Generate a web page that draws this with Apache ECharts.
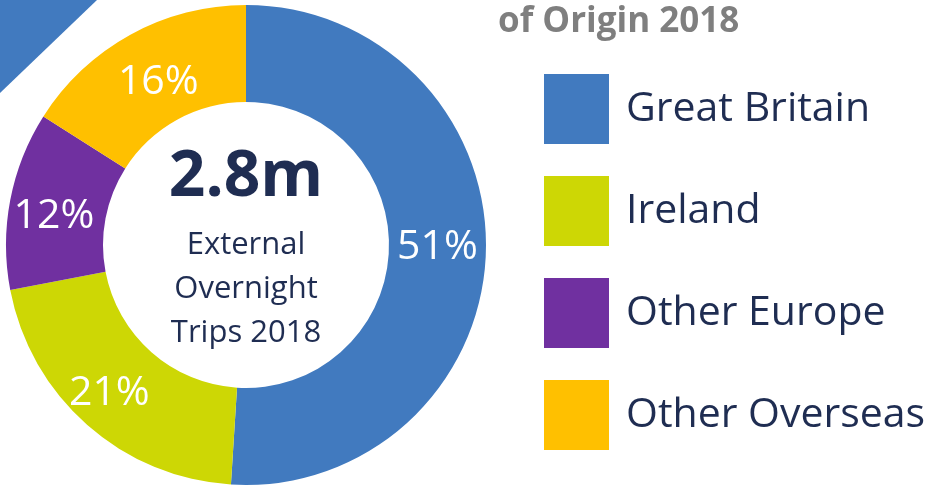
<!DOCTYPE html>
<html>
<head>
<meta charset="utf-8">
<script src="https://cdn.jsdelivr.net/npm/echarts@6/dist/echarts.min.js"></script>
<style>
  html, body { margin: 0; padding: 0; background: #fff; }
  #chart { width: 931px; height: 486px; }
</style>
</head>
<body>
<div id="chart"></div>
<script>
// market share of external overnight trips
const markets = ['Great Britain', 'Ireland', 'Other Europe', 'Other Overseas'];
const shares = [51, 21, 12, 16];
const colors = ['#417ABF', '#CDD705', '#7030A0', '#FFC000'];

const centreValue = '2.8m';
const centreLines = ['External', 'Overnight', 'Trips 2018'];

// nudge the % labels a little, like the original
const labelNudge = [[-3, -4], [-8, 2], [-1, 8], [6, 8]];

const NAVY = '#1F2D52';
const FONT = '"Open Sans", "Noto Sans", sans-serif';
const CX = 246, CY = 245;

const chart = echarts.init(document.getElementById('chart'));

const pieData = markets.map((name, i) => ({
  name: name,
  value: shares[i],
  itemStyle: { color: colors[i] },
  label: { offset: labelNudge[i] }
}));

const centreTexts = [{
  type: 'text',
  style: {
    x: CX, y: 178, text: centreValue, fill: NAVY,
    font: 'bold 64px ' + FONT, align: 'center', verticalAlign: 'middle'
  }
}].concat(centreLines.map((t, i) => ({
  type: 'text',
  style: {
    x: CX, y: 245 + i * 44, text: t, fill: NAVY,
    font: '31px ' + FONT, align: 'center', verticalAlign: 'middle'
  }
})));

chart.setOption({
  animation: false,
  title: {
    text: 'of Origin 2018',
    left: 493,
    top: 0,
    textStyle: { color: '#7F7F7F', fontFamily: FONT, fontWeight: 'bold', fontSize: 35 }
  },
  legend: {
    orient: 'vertical',
    left: 539,
    top: 69,
    icon: 'rect',
    itemWidth: 65,
    itemHeight: 70,
    itemGap: 32,
    data: markets,
    textStyle: {
      color: NAVY,
      fontFamily: FONT,
      fontSize: 41,
      padding: [0, 0, 0, 12]
    }
  },
  graphic: [
    {
      // corner decoration
      type: 'polygon',
      shape: { points: [[0, 0], [97, 0], [0, 93]] },
      style: { fill: '#417ABF' }
    }
  ].concat(centreTexts),
  series: [{
    type: 'pie',
    center: [CX, CY],
    radius: [143, 240],
    startAngle: 90,
    clockwise: true,
    avoidLabelOverlap: false,
    silent: true,
    label: {
      show: true,
      position: 'inside',
      formatter: '{c}%',
      color: '#fff',
      fontFamily: FONT,
      fontSize: 41,
      textBorderWidth: 0
    },
    labelLine: { show: false },
    data: pieData
  }]
});
</script>
</body>
</html>
